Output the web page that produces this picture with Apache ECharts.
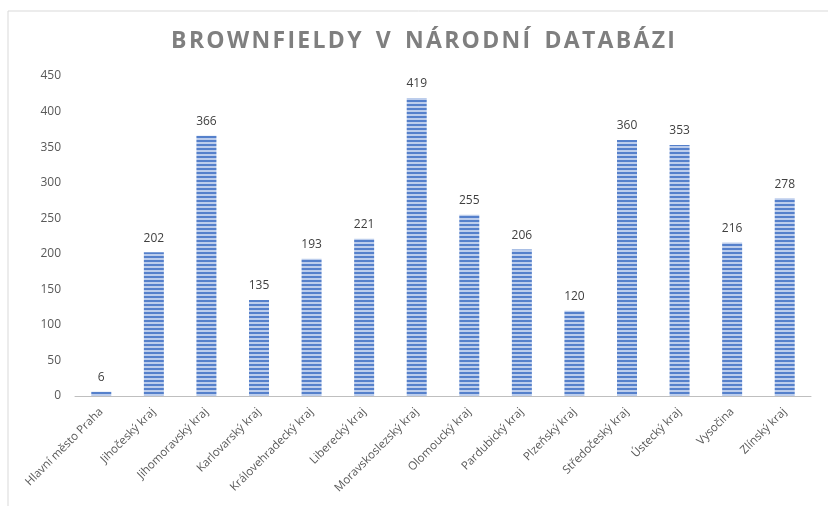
<!DOCTYPE html>
<html lang="cs">
<head>
  <meta charset="UTF-8">
  <title>Brownfieldy</title>
  <script src="https://cdn.jsdelivr.net/npm/echarts@6/dist/echarts.min.js"></script>
  <style>
    body { margin: 0; background: #fff; }
  </style>
</head>
<body>
  <div id="main" style="width:828px;height:506px"></div>
  <script>
    var kraje = ['Hlavní město Praha', 'Jihočeský kraj', 'Jihomoravský kraj', 'Karlovarský kraj',
      'Královehradecký kraj', 'Liberecký kraj', 'Moravskoslezský kraj', 'Olomoucký kraj',
      'Pardubický kraj', 'Plzeňský kraj', 'Středočeský kraj', 'Ústecký kraj', 'Vysočina', 'Zlínský kraj']
    var pocty = [6, 202, 366, 135, 193, 221, 419, 255, 206, 120, 360, 353, 216, 278]

    // vodorovné pruhy na sloupcích
    var vzor = document.createElement('canvas')
    vzor.width = 4
    vzor.height = 4
    var c = vzor.getContext('2d')
    c.fillStyle = '#bccdec'
    c.fillRect(0, 0, 4, 4)
    c.fillStyle = '#5580cb'
    c.fillRect(0, 0, 4, 2)

    var chart = echarts.init(document.getElementById('main'))
    chart.setOption({
      animation: false,
      title: {
        text: 'B R O W N F I E L D Y   V   N Á R O D N Í   D A T A B Á Z I'.replace(/ (?! )/g, '\u200a'),
        left: 418,
        textAlign: 'center',
        top: 25,
        textStyle: { fontFamily: 'Open Sans', fontWeight: 'bold', fontSize: 23, color: '#7f7f7f' }
      },
      graphic: [{
        type: 'rect',
        shape: { x: 8, y: 11, width: 840, height: 520 },
        style: { fill: 'none', stroke: '#d9d9d9', lineWidth: 1 },
        silent: true
      }],
      grid: { left: 75, right: 17, top: 76, bottom: 110 },
      xAxis: {
        type: 'category',
        data: kraje,
        axisLine: { lineStyle: { color: '#bfbfbf', width: 1 } },
        axisTick: { show: false },
        axisLabel: { rotate: 45, interval: 0, color: '#595959', fontFamily: 'Open Sans', fontSize: 11.5, margin: 14 }
      },
      yAxis: {
        type: 'value',
        min: 0,
        max: 450,
        interval: 50,
        splitLine: { show: false },
        axisLabel: { color: '#595959', fontFamily: 'Open Sans', fontSize: 12, margin: 14 }
      },
      series: [{
        type: 'bar',
        data: pocty,
        barWidth: 20,
        itemStyle: { color: { image: vzor, repeat: 'repeat' } },
        label: { show: true, position: 'top', color: '#404040', fontFamily: 'Open Sans', fontSize: 12, distance: 8 }
      }]
    })
  </script>
</body>
</html>
